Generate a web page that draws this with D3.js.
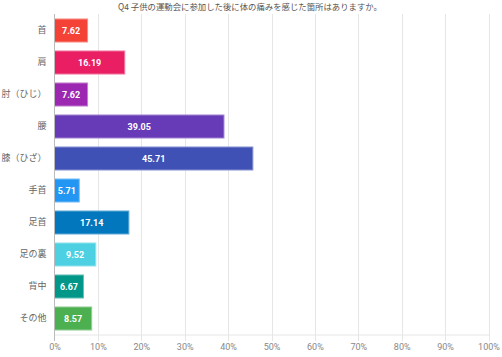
<!DOCTYPE html>
<html><head><meta charset="utf-8">
<script src="https://cdn.jsdelivr.net/npm/d3@7"></script>
<style>body{margin:0;background:#fff;}svg{display:block;font-family:"Noto Sans CJK JP","Noto Sans",sans-serif;}</style>
</head><body>
<svg id="c" width="502" height="357"></svg>
<script>
const title = "Q4 子供の運動会に参加した後に体の痛みを感じた箇所はありますか。";
const categories = ["首","肩","肘（ひじ）","腰","膝（ひざ）","手首","足首","足の裏","背中","その他"];
const values = [7.62,16.19,7.62,39.05,45.71,5.71,17.14,9.52,6.67,8.57];
const colors = ["#F44336","#E91E63","#9C27B0","#673AB7","#3F51B5","#2196F3","#0277BD","#4DD0E1","#009688","#4CAF50"];
const ticks = [0,10,20,30,40,50,60,70,80,90,100];

const svg = d3.select("#c");
const x = d3.scaleLinear().domain([0,100]).range([54.5,488.5]);
const y = d3.scaleBand().domain(categories).range([14.5,334.5]).paddingInner(0.28).paddingOuter(0.14);

svg.append("text").attr("x",250).attr("y",10).attr("text-anchor","middle")
  .attr("font-size",8.4).attr("fill","#555").text(title);

// gridlines
svg.append("g").selectAll("line").data(ticks.slice(1)).join("line")
  .attr("x1",d=>Math.round(x(d))+0.5).attr("x2",d=>Math.round(x(d))+0.5)
  .attr("y1",14).attr("y2",341).attr("stroke","#e6e6e6").attr("stroke-width",1);

// bars
svg.append("g").selectAll("rect").data(values).join("rect")
  .attr("x",x(0)).attr("y",(d,i)=>y(categories[i]))
  .attr("width",d=>x(d)-x(0)).attr("height",y.bandwidth())
  .attr("fill",(d,i)=>colors[i])
  .attr("stroke",(d,i)=>d3.interpolateRgb(colors[i],"#fff")(0.4)).attr("stroke-width",1);

svg.append("g").selectAll("text").data(values).join("text")
  .attr("x",d=>(x(0)+x(d))/2).attr("y",(d,i)=>y(categories[i])+y.bandwidth()/2)
  .attr("dy","0.35em").attr("text-anchor","middle").attr("font-size",9).attr("font-weight","bold")
  .attr("font-family","Roboto,Arial,sans-serif")
  .attr("fill","#fff").text(d=>d.toFixed(2));

// y axis
const ya = svg.append("g").attr("transform",`translate(${x(0)},0)`).call(d3.axisLeft(y).tickSize(0).tickPadding(8));
ya.select(".domain").attr("stroke","#bbb").attr("d","M0,14V341");
ya.selectAll("text").attr("font-size",9).attr("fill","#666").attr("font-family",'"Noto Sans CJK JP",sans-serif');

// x axis
const xa = svg.append("g").attr("transform","translate(0,334.5)")
  .call(d3.axisBottom(x).tickValues(ticks).tickFormat(d=>d+"%").tickSize(0).tickPadding(9));
xa.select(".domain").attr("stroke","#e6e6e6");
xa.selectAll("text").attr("font-size",9).attr("fill","#888").attr("font-family","Roboto,Arial,sans-serif");
</script>
</body></html>
